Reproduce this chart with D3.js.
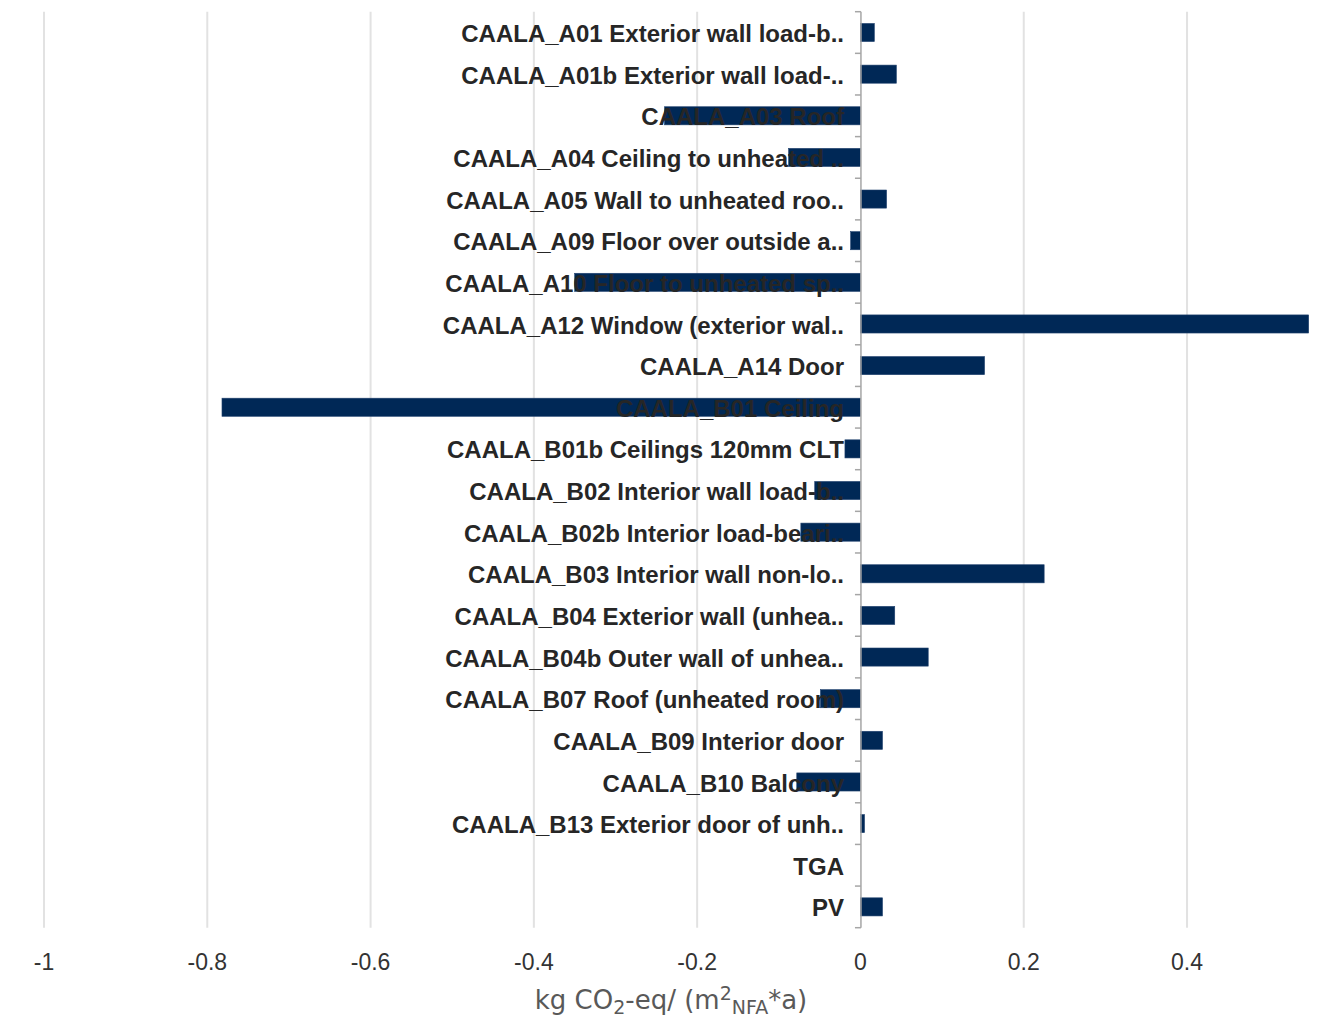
<!DOCTYPE html>
<html><head><meta charset="utf-8">
<script src="https://cdn.jsdelivr.net/npm/d3@7"></script>
<style>body{margin:0;background:#fff;}</style>
</head><body>
<svg id="chart" width="1321" height="1018"></svg>
<script>
const categories = ["CAALA_A01 Exterior wall load-b..","CAALA_A01b Exterior wall load-..","CAALA_A03 Roof","CAALA_A04 Ceiling to unheated ..","CAALA_A05 Wall to unheated roo..","CAALA_A09 Floor over outside a..","CAALA_A10 Floor to unheated sp..","CAALA_A12 Window (exterior wal..","CAALA_A14 Door","CAALA_B01 Ceiling","CAALA_B01b Ceilings 120mm CLT","CAALA_B02 Interior wall load-b..","CAALA_B02b Interior load-beari..","CAALA_B03 Interior wall non-lo..","CAALA_B04 Exterior wall (unhea..","CAALA_B04b Outer wall of unhea..","CAALA_B07 Roof (unheated room)","CAALA_B09 Interior door","CAALA_B10 Balcony","CAALA_B13 Exterior door of unh..","TGA","PV"];
const values = [0.017,0.044,-0.24,-0.088,0.032,-0.012,-0.35,0.549,0.152,-0.782,-0.019,-0.056,-0.073,0.225,0.042,0.083,-0.049,0.027,-0.078,0.005,0,0.027];
const xTicks = [-1,-0.8,-0.6,-0.4,-0.2,0,0.2,0.4];
const xTickLabels = ["-1","-0.8","-0.6","-0.4","-0.2","0","0.2","0.4"];

const svg = d3.select("#chart");
const x = d3.scaleLinear().domain([-1,0.55]).range([44,1309.5]);
const y = d3.scaleBand().domain(categories).range([11.7,927.7]).paddingInner(0.565).paddingOuter(0.2825);
const yb = d3.scaleBand().domain(categories).range([11.7,927.7]);

// gridlines
svg.append("g").selectAll("line").data(xTicks.filter(d=>d!==0)).join("line")
  .attr("x1",d=>x(d)).attr("x2",d=>x(d)).attr("y1",11.7).attr("y2",927.7)
  .attr("stroke","#e2e2e2").attr("stroke-width",2);

// bars
svg.append("g").selectAll("rect").data(values).join("rect")
  .attr("x",(d)=>x(Math.min(0,d))).attr("width",d=>Math.abs(x(d)-x(0)))
  .attr("y",(d,i)=>y(categories[i])).attr("height",y.bandwidth())
  .attr("fill","#002856").attr("stroke","#21426e").attr("stroke-width",0.6);

// category labels (drawn over bars)
svg.append("g").selectAll("text").data(categories).join("text")
  .attr("x",844).attr("y",d=>yb(d)+yb.bandwidth()/2).attr("dy","0.4em")
  .attr("text-anchor","end").attr("font-family","Liberation Sans, Arial, sans-serif")
  .attr("font-weight","bold").attr("font-size",24).attr("fill","#262626").text(d=>d);

// y axis
const ga = svg.append("g").attr("transform",`translate(${x(0)+0.5},0)`);
ga.append("line").attr("x1",0).attr("x2",0).attr("y1",11.7).attr("y2",927.7).attr("stroke","#a6a6a6").attr("stroke-width",1.5);
ga.selectAll("line.t").data(d3.range(categories.length+1)).join("line").attr("class","t")
  .attr("x1",-6).attr("x2",0).attr("y1",i=>11.7+i*yb.step()).attr("y2",i=>11.7+i*yb.step())
  .attr("stroke","#a6a6a6").attr("stroke-width",1.5);

// x tick labels
svg.append("g").selectAll("text").data(xTicks).join("text")
  .attr("x",d=>x(d)).attr("y",970).attr("text-anchor","middle")
  .attr("font-family","Liberation Sans, Arial, sans-serif").attr("font-size",23).attr("fill","#333")
  .text((d,i)=>xTickLabels[i]);

// axis title
const t = svg.append("text").attr("x",671).attr("y",1009).attr("text-anchor","middle")
  .attr("font-family","DejaVu Sans, sans-serif").attr("font-size",26).attr("fill","#595959");
t.append("tspan").text("kg CO");
t.append("tspan").attr("font-size",19).attr("dy",5).text("2");
t.append("tspan").attr("dy",-5).text("-eq/ (m");
t.append("tspan").attr("font-size",19).attr("dy",-9).text("2");
t.append("tspan").attr("font-size",19).attr("dy",14).text("NFA");
t.append("tspan").attr("dy",-5).text("*a)");
</script>
</body></html>
